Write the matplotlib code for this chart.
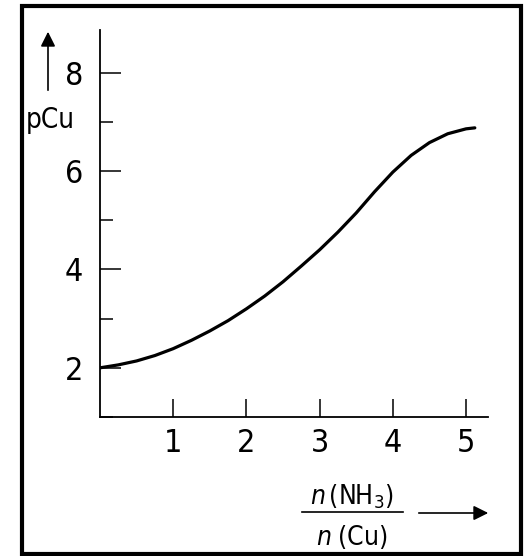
import matplotlib
matplotlib.use('Agg')
import matplotlib.pyplot as plt
from matplotlib.lines import Line2D
from matplotlib.patches import Rectangle
from matplotlib.ticker import MultipleLocator

# curve
ratio = [0, 0.25, 0.5, 0.75, 1.0, 1.25, 1.5, 1.75, 2.0, 2.25, 2.5, 2.75,
         3.0, 3.25, 3.5, 3.75, 4.0, 4.25, 4.5, 4.75, 5.0, 5.12]
pcu = [2.0, 2.06, 2.14, 2.25, 2.39, 2.56, 2.75, 2.96, 3.2, 3.46, 3.75, 4.07,
       4.4, 4.76, 5.15, 5.58, 5.98, 6.32, 6.58, 6.76, 6.86, 6.88]

x_ticks = [1, 2, 3, 4, 5]
y_ticks = [2, 4, 6, 8]

plt.rcParams['font.family'] = ['DejaVu Sans']
plt.rcParams['font.stretch'] = 'condensed'
plt.rcParams['mathtext.fontset'] = 'custom'
plt.rcParams['mathtext.rm'] = 'DejaVu Sans'
plt.rcParams['mathtext.it'] = 'DejaVu Sans:italic'

W, H = 526, 556
fig = plt.figure(figsize=(W / 100, H / 100), dpi=100)

def fx(px):
    return px / W

def fy(py):
    return 1 - py / H

ax = fig.add_axes([fx(100), fy(417), fx(488) - fx(100), fy(30) - fy(417)])
ax.plot(ratio, pcu, color='black', lw=2.3, solid_capstyle='round')

ax.set_xlim(0, 5.3)
ax.set_ylim(1.0, 8.87)
ax.set_xticks(x_ticks)
ax.set_yticks(y_ticks)
ax.yaxis.set_minor_locator(MultipleLocator(1))

for s in ['top', 'right']:
    ax.spines[s].set_visible(False)
for s in ['left', 'bottom']:
    ax.spines[s].set_linewidth(1.3)

ax.tick_params(axis='y', which='major', direction='in', length=15, width=1.1,
               labelsize=23, pad=12)
ax.tick_params(axis='y', which='minor', direction='in', length=9, width=1.1)
ax.tick_params(axis='x', which='major', direction='in', length=13, width=1.1,
               labelsize=23, pad=8)

# y axis label with arrow
fig.text(fx(50), fy(120), 'pCu', fontsize=20, ha='center', va='center')
ax.annotate('', xy=(fx(48), fy(29)), xytext=(fx(48), fy(93)),
            xycoords='figure fraction', textcoords='figure fraction',
            arrowprops=dict(arrowstyle='-|>', color='black', lw=1.2,
                            mutation_scale=22))

# x axis label as a fraction with arrow
fig.text(fx(352), fy(497), r'$n\,(\mathrm{NH}_3)$', fontsize=19,
         ha='center', va='center')
fig.text(fx(352), fy(537), r'$n\;(\mathrm{Cu})$', fontsize=19,
         ha='center', va='center')
fig.add_artist(Line2D([fx(302), fx(403)], [fy(512), fy(512)],
                      color='black', lw=1.2))
ax.annotate('', xy=(fx(491), fy(513)), xytext=(fx(416), fy(513)),
            xycoords='figure fraction', textcoords='figure fraction',
            arrowprops=dict(arrowstyle='-|>', color='black', lw=1.2,
                            mutation_scale=22))

# frame around the whole picture
fig.add_artist(Rectangle((fx(22), fy(554)), fx(521) - fx(22), fy(6) - fy(554),
                         transform=fig.transFigure, fill=False,
                         edgecolor='black', lw=3))

fig.savefig('out.png', dpi=100)
